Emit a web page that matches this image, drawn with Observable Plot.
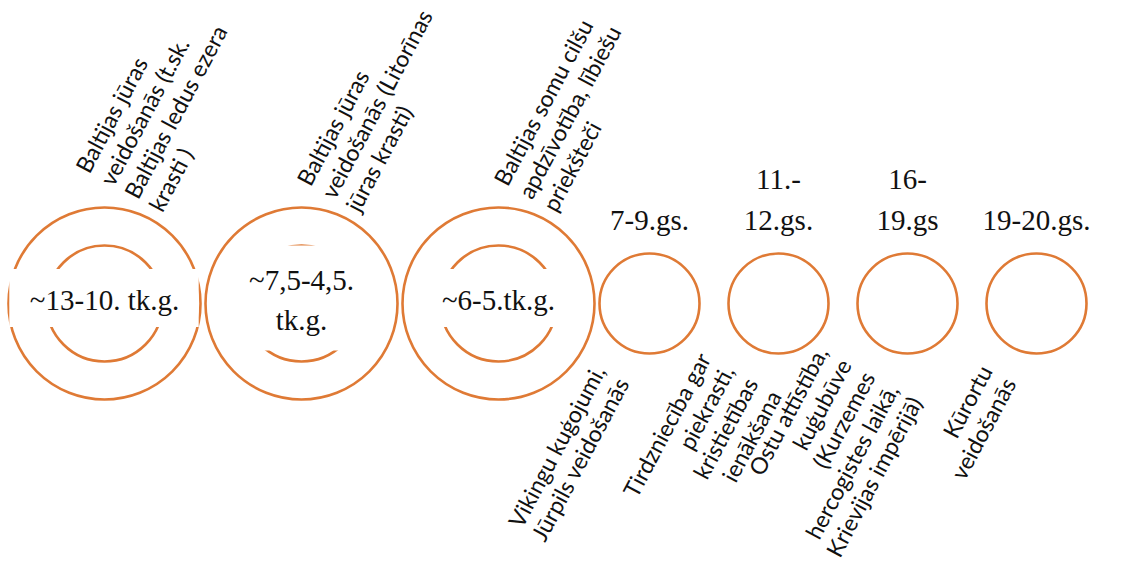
<!DOCTYPE html>
<html>
<head>
<meta charset="utf-8">
<script src="https://cdn.jsdelivr.net/npm/d3@7"></script>
<script src="https://cdn.jsdelivr.net/npm/@observablehq/plot@0.6"></script>
<style>
  html, body { margin: 0; padding: 0; background: #ffffff; }
  #chart { width: 1122px; height: 583px; }
</style>
</head>
<body>
<div id="chart"></div>
<script>
// ---- Data ----
const periods = [
  "~13-10. tk.g.",
  "~7,5-4,5.\ntk.g.",
  "~6-5.tk.g.",
  "7-9.gs.",
  "11.-\n12.gs.",
  "16-\n19.gs",
  "19-20.gs."
];
// tk.g. = millennia ago (large rings), gs. = centuries (small rings)
const kinds = ["millennia", "millennia", "millennia", "centuries", "centuries", "centuries", "centuries"];
const descriptions = [
  "Baltijas jūras\nveidošanās (t.sk.\nBaltijas ledus ezera\nkrasti )",
  "Baltijas jūras\nveidošanās (Litorīnas\njūras krasti)",
  "Baltijas somu cilšu\napdzīvotība, lībiešu\npriekšteči",
  "Vikingu kuģojumi,\nJūrpils veidošanās",
  "Tirdzniecība gar\npiekrasti,\nkristietības\nienākšana",
  "Ostu attīstība,\nkuģubūve\n(Kurzemes\nhercogistes laikā,\nKrievijas impērijā)",
  "Kūrortu\nveidošanās"
];

// ---- Layout (derived from the kinds) ----
const W = 1122, H = 583;
const ORANGE = "#df7a35";
const SERIF = "'Liberation Serif', 'DejaVu Serif', serif";
const SANS = "Lato, 'Open Sans', sans-serif";
const SERIF_SIZE = 29, SERIF_LH = 1.38;
const SANS_SIZE = 23;
const radius = k => (k === "millennia" ? 96 : 50);
const INNER_R = 58;
const CY = 303;

const canvas = document.createElement("canvas");
const ctx = canvas.getContext("2d");
ctx.font = `${SERIF_SIZE}px ${SERIF}`;
const textWidth = s => d3.max(s.split("\n"), l => ctx.measureText(l).width);

let cursor = 8;
const rows = periods.map((p, i) => {
  const r = radius(kinds[i]);
  if (i > 0) cursor += (kinds[i] === "centuries" && kinds[i - 1] === "centuries") ? 29 : 5;
  const cx = cursor + r;
  cursor = cx + r;
  const nLines = p.split("\n").length;
  const half = textWidth(p) / 2 + 20;
  const hh = (nLines * 47 + 11) / 2;
  const boxMid = CY - 5;
  return {
    period: p, kind: kinds[i], description: descriptions[i],
    cx, cy: CY, r,
    bx1: cx - half, bx2: cx + half, by1: boxMid - hh, by2: boxMid + hh,
    topY: CY - r
  };
});
const big = rows.filter(d => d.kind === "millennia");
const small = rows.filter(d => d.kind === "centuries");

const chart = Plot.plot({
  width: W,
  height: H,
  margin: 0,
  x: { domain: [0, W], range: [0, W], axis: null },
  y: { domain: [0, H], range: [0, H], axis: null },
  marks: [
    Plot.dot(big, { x: "cx", y: "cy", r: 96, stroke: ORANGE, strokeWidth: 2.6, fill: "white" }),
    Plot.dot(big, { x: "cx", y: "cy", r: INNER_R, stroke: ORANGE, strokeWidth: 2.6, fill: "none" }),
    Plot.dot(small, { x: "cx", y: "cy", r: 50, stroke: ORANGE, strokeWidth: 2.6, fill: "white" }),
    Plot.rect(big, { x1: "bx1", x2: "bx2", y1: "by1", y2: "by2", fill: "white" }),
    Plot.text(big, {
      x: "cx", y: "cy", text: "period", dy: -6,
      fontFamily: SERIF, fontSize: SERIF_SIZE, lineHeight: SERIF_LH,
      lineAnchor: "middle", fill: "#111"
    }),
    Plot.text(small, {
      x: "cx", y: "topY", text: "period", dy: -24,
      fontFamily: SERIF, fontSize: SERIF_SIZE, lineHeight: SERIF_LH,
      lineAnchor: "bottom", fill: "#111"
    }),
    Plot.text(big, {
      x: "cx", y: "cy", text: "description", dx: 58, dy: -90,
      rotate: -62, textAnchor: "start", lineAnchor: "bottom",
      fontFamily: SANS, fontSize: SANS_SIZE, lineHeight: 1.2, fill: "#111"
    }),
    Plot.text(small, {
      x: "cx", y: "cy", text: "description", dx: -39, dy: 70,
      rotate: -62, textAnchor: "end", lineAnchor: "middle",
      fontFamily: SANS, fontSize: SANS_SIZE, lineHeight: 1.16, fill: "#111"
    })
  ]
});
document.getElementById("chart").appendChild(chart);
</script>
</body>
</html>
